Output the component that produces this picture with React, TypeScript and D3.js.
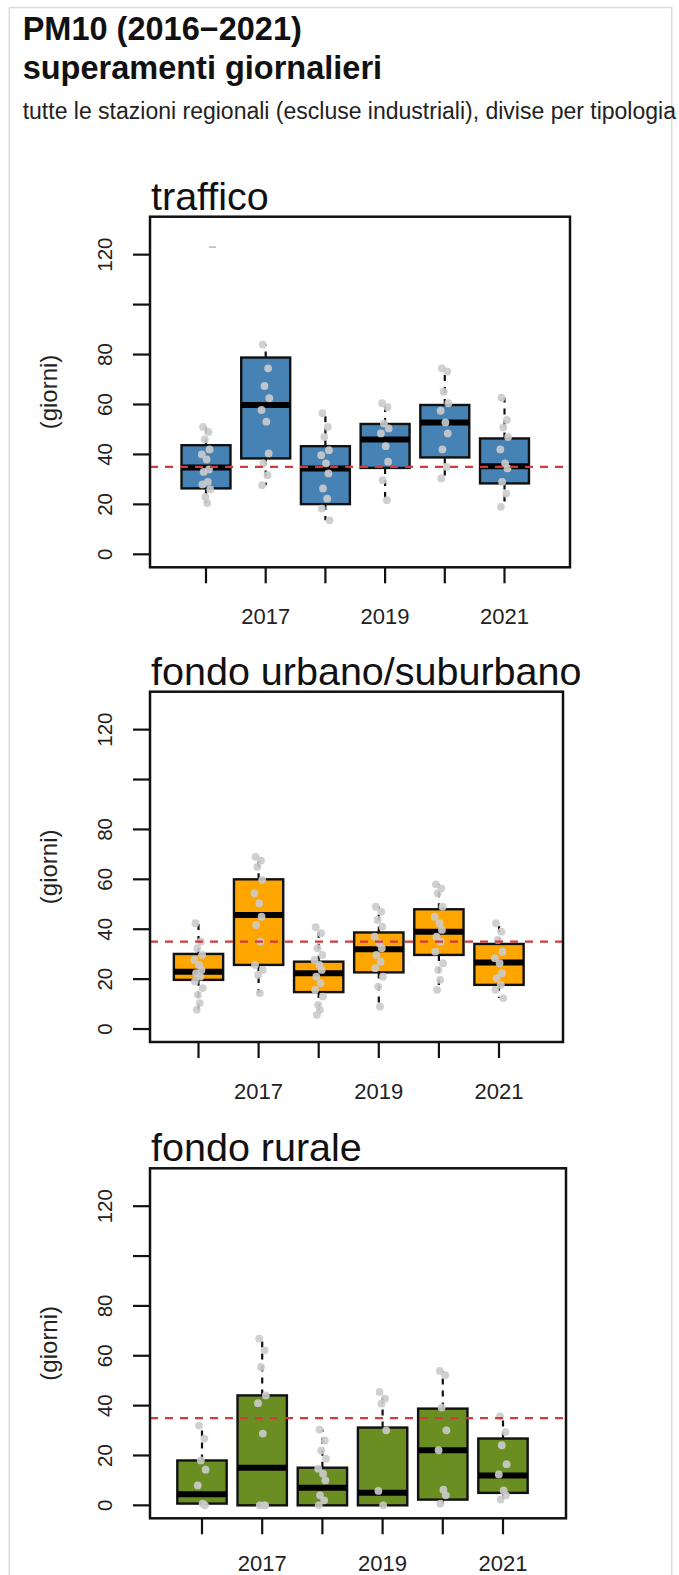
import React from "react";
import * as d3 from "d3";

// ---------- data ----------
const YEARS = ["2016", "2017", "2018", "2019", "2020", "2021"];
const X_LABELS = ["", "2017", "", "2019", "", "2021"];
const Y_TICKS = [0, 20, 40, 60, 80, 100, 120];
const Y_LABELS = ["0", "20", "40", "60", "80", "", "120"];
const LIMIT = 35;
const JITTER = [-0.05, 0.04, -0.02, 0.06, -0.07, 0.01, 0.05, -0.04, 0.03, -0.06, 0.07, -0.01, 0.02, -0.03];

// traffico
const TRA_WLO = [20.5, 27.7, 13.6, 21.7, 30.4, 19];
const TRA_Q1 = [26.4, 38.4, 20.1, 34.6, 38.8, 28.4];
const TRA_MED = [34.8, 59.8, 34.4, 46, 52.8, 35.3];
const TRA_Q3 = [43.7, 78.8, 43.3, 52.2, 59.8, 46.4];
const TRA_WHI = [51, 84, 56.5, 60.5, 74.5, 62.7];
const TRA_PTS = [
  [51, 49, 46, 42, 40, 38, 34, 33, 29, 28, 26, 23, 20.5],
  [84, 74.5, 67.4, 62.5, 57.8, 53.1, 40.4, 36.4, 31.7, 27.7],
  [56.5, 51, 47, 41.7, 39.7, 36.4, 32.4, 26.4, 22.3, 18.3, 13.6],
  [60.5, 58.9, 52.4, 50.4, 48.4, 43.3, 37.1, 29.7, 21.7],
  [74.5, 73.2, 65.1, 60.5, 57.5, 52.8, 48.4, 42, 35, 30.4],
  [62.7, 53.8, 50.8, 47, 42, 36.4, 34.4, 29, 24.3, 19],
];
const TRA_OUT = [[123], [], [], [], [], []];

// fondo urbano/suburbano
const URB_WLO = [7.7, 14.4, 5.7, 9, 15.7, 12.4];
const URB_Q1 = [19.7, 25.7, 14.8, 22.7, 29.7, 17.7];
const URB_MED = [23, 45.7, 22.4, 32, 39, 26.7];
const URB_Q3 = [30.1, 60, 27, 38.7, 48, 34.1];
const URB_WHI = [42.4, 69, 40.8, 49, 58, 42.4];
const URB_PTS = [
  [42.4, 35, 32.4, 29.7, 27.7, 25.7, 23.7, 22.4, 21, 19, 16.4, 13.7, 10.4, 7.7],
  [69, 67.5, 65, 59.7, 54.4, 50.4, 45, 41.7, 35, 25.7, 23.7, 21.7, 14.4],
  [40.8, 38.4, 32.4, 29.7, 27.7, 25.7, 23.7, 21, 18.4, 15.7, 13, 9.7, 7.7, 5.7],
  [49, 47, 43.7, 41, 37, 34.4, 32.4, 29.7, 27, 24.4, 21, 17, 9],
  [58, 56.4, 54.4, 49, 45, 42.4, 39.7, 37, 35, 31, 26.4, 23.7, 19.7, 15.7],
  [42.4, 39, 35.7, 31, 28.4, 26.4, 22.4, 20.4, 17.7, 15.7, 12.4],
];
const URB_OUT = [[], [], [], [], [], []];

// fondo rurale
const RUR_WLO = [0, 0, 0, 0, 0.7, 2.3];
const RUR_Q1 = [0.7, 0, 0, 0, 2.3, 5];
const RUR_MED = [4.4, 15.1, 7.1, 5, 22.1, 12];
const RUR_Q3 = [18, 44.1, 15.1, 31.2, 38.8, 26.8];
const RUR_WHI = [32, 66.9, 30.4, 45.5, 53.9, 35.7];
const RUR_PTS = [
  [32, 26.8, 18, 14.3, 8, 0.7, 0],
  [66.9, 62.2, 55.5, 44.1, 41, 28.8, 0, 0, 0],
  [30.4, 26, 22, 18.7, 14.7, 12.7, 10, 4, 2, 0],
  [45.5, 42.8, 40.8, 30.1, 5.8, 0],
  [53.9, 52.2, 39.2, 30.1, 22.1, 6.3, 4, 0.7],
  [35.7, 29.4, 24.1, 16.5, 12.4, 6, 4, 2.3],
];
const RUR_OUT = [[], [], [], [], [], []];

const TITLES = ["traffico", "fondo urbano/suburbano", "fondo rurale"];
const FILLS = ["steelblue", "orange", "olivedrab"];

// ---------- layout ----------
const W = 679;
const H = 1575;
const FONT = "'Liberation Sans', Arial, Helvetica, sans-serif";
const LAYOUT = [
  { left: 150, right: 570, top: 216.7, bottom: 567.3, x1: 206, x6: 504.5, lab: 57 },
  { left: 150, right: 563, top: 691.7, bottom: 1042, x1: 198.5, x6: 499, lab: 57 },
  { left: 150, right: 566, top: 1168.3, bottom: 1518.3, x1: 202, x6: 503, lab: 53 },
];

const DATA = [
  { wlo: TRA_WLO, q1: TRA_Q1, med: TRA_MED, q3: TRA_Q3, whi: TRA_WHI, pts: TRA_PTS, out: TRA_OUT },
  { wlo: URB_WLO, q1: URB_Q1, med: URB_MED, q3: URB_Q3, whi: URB_WHI, pts: URB_PTS, out: URB_OUT },
  { wlo: RUR_WLO, q1: RUR_Q1, med: RUR_MED, q3: RUR_Q3, whi: RUR_WHI, pts: RUR_PTS, out: RUR_OUT },
];

function Panel({ idx }: { idx: number }) {
  const L = LAYOUT[idx];
  const D = DATA[idx];
  const x = d3.scaleLinear().domain([1, 6]).range([L.x1, L.x6]);
  const y = d3.scaleLinear().domain([-5.2, 135.2]).range([L.bottom, L.top]);
  const unit = x(2) - x(1);
  const bw = 0.82 * unit;
  return (
    <g>
      <text x={L.left + 1} y={L.top - 7} fontFamily={FONT} fontSize={39.5} fill="#111">
        {TITLES[idx]}
      </text>
      {YEARS.map((yr, i) => {
        const cx = x(i + 1);
        return (
          <g key={yr}>
            <line x1={cx} x2={cx} y1={y(D.q3[i])} y2={y(D.whi[i])} stroke="#111" strokeWidth={2.2} strokeDasharray="6,6" />
            <line x1={cx} x2={cx} y1={y(D.q1[i])} y2={y(D.wlo[i])} stroke="#111" strokeWidth={2.2} strokeDasharray="6,6" />
            <rect
              x={cx - bw / 2}
              width={bw}
              y={y(D.q3[i])}
              height={Math.max(0, y(D.q1[i]) - y(D.q3[i]))}
              fill={FILLS[idx]}
              stroke="#111"
              strokeWidth={2.4}
            />
            <line x1={cx - bw / 2} x2={cx + bw / 2} y1={y(D.med[i])} y2={y(D.med[i])} stroke="#000" strokeWidth={6} />
          </g>
        );
      })}
      {YEARS.map((yr, i) =>
        D.pts[i].map((v, j) => (
          <circle
            key={yr + "-" + j}
            cx={x(i + 1 + JITTER[j % JITTER.length])}
            cy={y(v)}
            r={3.9}
            fill="#cbcbcb"
            fillOpacity={0.9}
          />
        ))
      )}
      {YEARS.map((yr, i) =>
        D.out[i].map((v, j) => (
          <line
            key={"o" + yr + j}
            x1={x(i + 1) + 3}
            x2={x(i + 1) + 10}
            y1={y(v)}
            y2={y(v)}
            stroke="#bdbdbd"
            strokeWidth={1.6}
          />
        ))
      )}
      <line x1={L.left} x2={L.right} y1={y(LIMIT)} y2={y(LIMIT)} stroke="#d23b3b" strokeWidth={2.2} strokeDasharray="8,7" />
      <rect x={L.left} y={L.top} width={L.right - L.left} height={L.bottom - L.top} fill="none" stroke="#111" strokeWidth={2.5} />
      {Y_TICKS.map((t, k) => (
        <g key={"yt" + t}>
          <line x1={L.left - 17} x2={L.left} y1={y(t)} y2={y(t)} stroke="#111" strokeWidth={2.2} />
          {Y_LABELS[k] !== "" && (
            <text
              transform={`translate(${L.left - 38},${y(t)}) rotate(-90)`}
              textAnchor="middle"
              fontFamily={FONT}
              fontSize={20.5}
              fill="#222"
            >
              {Y_LABELS[k]}
            </text>
          )}
        </g>
      ))}
      <text
        transform={`translate(57,${(L.top + L.bottom) / 2}) rotate(-90)`}
        textAnchor="middle"
        fontFamily={FONT}
        fontSize={24}
        fill="#222"
      >
        (giorni)
      </text>
      {YEARS.map((yr, i) => (
        <g key={"xt" + yr}>
          <line x1={x(i + 1)} x2={x(i + 1)} y1={L.bottom} y2={L.bottom + 16} stroke="#111" strokeWidth={2.2} />
          {X_LABELS[i] !== "" && (
            <text x={x(i + 1)} y={L.bottom + L.lab} textAnchor="middle" fontFamily={FONT} fontSize={22} fill="#222">
              {X_LABELS[i]}
            </text>
          )}
        </g>
      ))}
    </g>
  );
}

export default function App() {
  return (
    <svg
      width={W}
      height={H}
      viewBox={`0 0 ${W} ${H}`}
      style={{ position: "absolute", left: 0, top: 0, display: "block", background: "#fff" }}
    >
      <rect x={9.3} y={7.5} width={662.4} height={H + 20} fill="#fff" stroke="#dcdcdc" strokeWidth={1.5} />
      <text x={22.7} y={40} fontFamily={FONT} fontWeight="bold" fontSize={32.5} fill="#111">
        PM10 (2016−2021)
      </text>
      <text x={22.7} y={79} fontFamily={FONT} fontWeight="bold" fontSize={32.5} fill="#111">
        superamenti giornalieri
      </text>
      <text x={22.7} y={119} fontFamily={FONT} fontSize={23} fill="#222">
        tutte le stazioni regionali (escluse industriali), divise per tipologia
      </text>
      {[0, 1, 2].map((i) => (
        <Panel key={i} idx={i} />
      ))}
    </svg>
  );
}
